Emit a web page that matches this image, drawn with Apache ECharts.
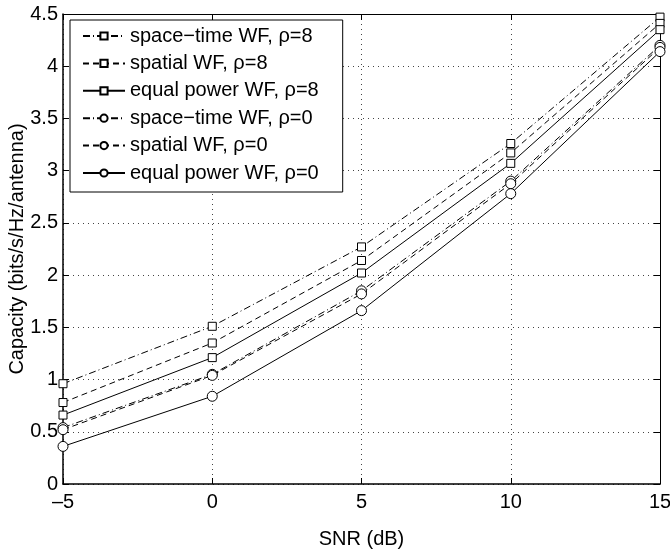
<!DOCTYPE html>
<html>
<head>
<meta charset="utf-8">
<script src="https://cdn.jsdelivr.net/npm/echarts@6/dist/echarts.min.js"></script>
<style>
  html, body { margin: 0; padding: 0; background: #fff; }
  #main { width: 670px; height: 550px; }
</style>
</head>
<body>
<div id="main"></div>
<script>
// SNR points (dB)
let snr = [-5, 0, 5, 10, 15];

// capacity values
let spaceTime8 = [0.96, 1.51, 2.27, 3.26, 4.47];
let spatial8 = [0.78, 1.35, 2.14, 3.17, 4.41];
let equal8 = [0.66, 1.21, 2.02, 3.07, 4.35];
let spaceTime0 = [0.54, 1.05, 1.85, 2.90, 4.20];
let spatial0 = [0.52, 1.04, 1.82, 2.875, 4.18];
let equal0 = [0.36, 0.84, 1.66, 2.78, 4.14];

let seriesNames = [
  'space\u2212time WF, \u03c1=8',
  'spatial WF, \u03c1=8',
  'equal power WF, \u03c1=8',
  'space\u2212time WF, \u03c1=0',
  'spatial WF, \u03c1=0',
  'equal power WF, \u03c1=0'
];

let font = 'Liberation Sans, Arial, sans-serif';
let dashDot = [7, 3, 1, 3];
let dashed = [6, 4];

function makeSeries(name, values, symbol, lineType, size){
  return {
    name: name,
    type: 'line',
    data: snr.map((x, i) => [x, values[i]]),
    symbol: symbol,
    symbolSize: size,
    showSymbol: true,
    animation: false,
    lineStyle: { color: '#000', width: 1, type: lineType },
    itemStyle: { color: '#fff', borderColor: '#000', borderWidth: 1 }
  };
}

let chart = echarts.init(document.getElementById('main'));

// top / right axes only draw the box and the inward ticks
function boxAxis(position, isX){
  return {
    type: 'value',
    position: position,
    min: isX ? -5 : 0,
    max: isX ? 15 : 4.5,
    interval: isX ? 5 : 0.5,
    axisLine: { show: true, onZero: false, lineStyle: { color: '#000', width: 1 } },
    axisTick: { show: true, inside: true, length: 6, lineStyle: { color: '#000' } },
    axisLabel: { show: false },
    splitLine: { show: false }
  };
}

let option = {
  backgroundColor: '#fff',
  grid: { left: 63, right: 10, top: 14, bottom: 66, containLabel: false, outerBoundsMode: 'none' },
  legend: {
    orient: 'vertical',
    left: 70,
    top: 20,
    padding: [6, 24, 9, 12],
    itemGap: 7.4,
    itemWidth: 42,
    itemHeight: 9,
    backgroundColor: '#fff',
    borderColor: '#000',
    borderWidth: 1,
    textStyle: { fontFamily: font, fontSize: 20, lineHeight: 20, color: '#000' },
    data: seriesNames
  },
  xAxis: [
    {
      type: 'value',
      min: -5,
      max: 15,
      interval: 5,
      name: 'SNR (dB)',
      nameLocation: 'middle',
      nameGap: 45,
      nameMoveOverlap: false,
      nameTextStyle: { fontFamily: font, fontSize: 20, color: '#000' },
      axisLine: { show: true, onZero: false, lineStyle: { color: '#000', width: 1.5 } },
      axisTick: { show: true, inside: true, length: 6, lineStyle: { color: '#000' } },
      axisLabel: {
        fontFamily: font, fontSize: 20, color: '#000', margin: 8,
        formatter: v => String(v).replace('-', '\u2013')
      },
      splitLine: { show: true, lineStyle: { color: '#444', type: [1, 4], width: 1 } }
    },
    boxAxis('top', true)
  ],
  yAxis: [
    {
      type: 'value',
      min: 0,
      max: 4.5,
      interval: 0.5,
      name: 'Capacity (bits/s/Hz/antenna)',
      nameLocation: 'middle',
      nameGap: 36,
      nameMoveOverlap: false,
      nameTextStyle: { fontFamily: font, fontSize: 20, color: '#000' },
      axisLine: { show: true, onZero: false, lineStyle: { color: '#000', width: 1.5 } },
      axisTick: { show: true, inside: true, length: 6, lineStyle: { color: '#000' } },
      axisLabel: { fontFamily: font, fontSize: 20, color: '#000', margin: 5 },
      splitLine: { show: true, lineStyle: { color: '#444', type: [1, 4], width: 1 } }
    },
    boxAxis('right', false)
  ],
  series: [
    makeSeries(seriesNames[0], spaceTime8, 'rect', dashDot, 8),
    makeSeries(seriesNames[1], spatial8, 'rect', dashed, 8),
    makeSeries(seriesNames[2], equal8, 'rect', 'solid', 8),
    makeSeries(seriesNames[3], spaceTime0, 'circle', dashDot, 10),
    makeSeries(seriesNames[4], spatial0, 'circle', dashed, 10),
    makeSeries(seriesNames[5], equal0, 'circle', 'solid', 10)
  ]
};

chart.setOption(option);
</script>
</body>
</html>
